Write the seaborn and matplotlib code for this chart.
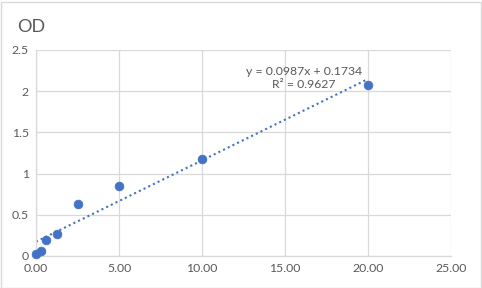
import matplotlib
matplotlib.use("Agg")
import matplotlib.pyplot as plt
import seaborn as sns
import numpy as np
import pandas as pd

conc = [0.0, 0.3125, 0.625, 1.25, 2.5, 5.0, 10.0, 20.0]
od = [0.02, 0.065, 0.2, 0.27, 0.63, 0.85, 1.18, 2.075]
slope = 0.0987
intercept = 0.1734
eq_text = "y = 0.0987x + 0.1734\nR² = 0.9627"
x_ticks = [0, 5, 10, 15, 20, 25]
y_ticks = [0, 0.5, 1, 1.5, 2, 2.5]

sns.set_theme(style="white")
plt.rcParams['font.family'] = ['Lato', 'DejaVu Sans']

fig = plt.figure(figsize=(4.82, 2.88), dpi=100)
ax = fig.add_axes([36/482, 32/288, (451-36)/482, (256-50)/288])

blue = "#4472C4"
grey_grid = "#d9d9d9"
txt = "#595959"

df = pd.DataFrame({"conc": conc, "od": od})
xs = np.array([min(conc), max(conc)])
ax.plot(xs, slope * xs + intercept, linestyle=(0, (1, 1.5)), color=blue, linewidth=1.5, zorder=2)
sns.scatterplot(data=df, x="conc", y="od", ax=ax, color=blue, s=40, edgecolor=blue,
                linewidth=0.5, zorder=3, clip_on=False)

ax.set_xlim(0, 25)
ax.set_ylim(0, 2.5)
ax.set_xticks(x_ticks)
ax.set_xticklabels([f"{v:.2f}" for v in x_ticks])
ax.set_yticks(y_ticks)
ax.set_yticklabels([f"{v:g}" for v in y_ticks])
ax.grid(True, color=grey_grid, linewidth=0.9)
ax.set_axisbelow(True)
for s in ["top", "right"]:
    ax.spines[s].set_visible(False)
for s in ["left", "bottom"]:
    ax.spines[s].set_color(grey_grid)
    ax.spines[s].set_linewidth(0.9)
ax.tick_params(axis="both", length=0, labelsize=8.8, colors=txt, pad=5)
ax.set_xlabel("")
ax.set_ylabel("")

ax.text(16.15, 2.02, eq_text, ha="center", va="bottom", fontsize=8.8, color=txt, linespacing=1.15)

fig.text(17/482, 1 - 27/288, "OD", fontsize=13, color=txt, va="center", ha="left")

fig.patches.append(plt.Rectangle((0.5/482, 0.5/288), 480/482, 286/288, transform=fig.transFigure,
                                 fill=False, edgecolor=grey_grid, linewidth=1))

fig.savefig("out.png", dpi=100)
